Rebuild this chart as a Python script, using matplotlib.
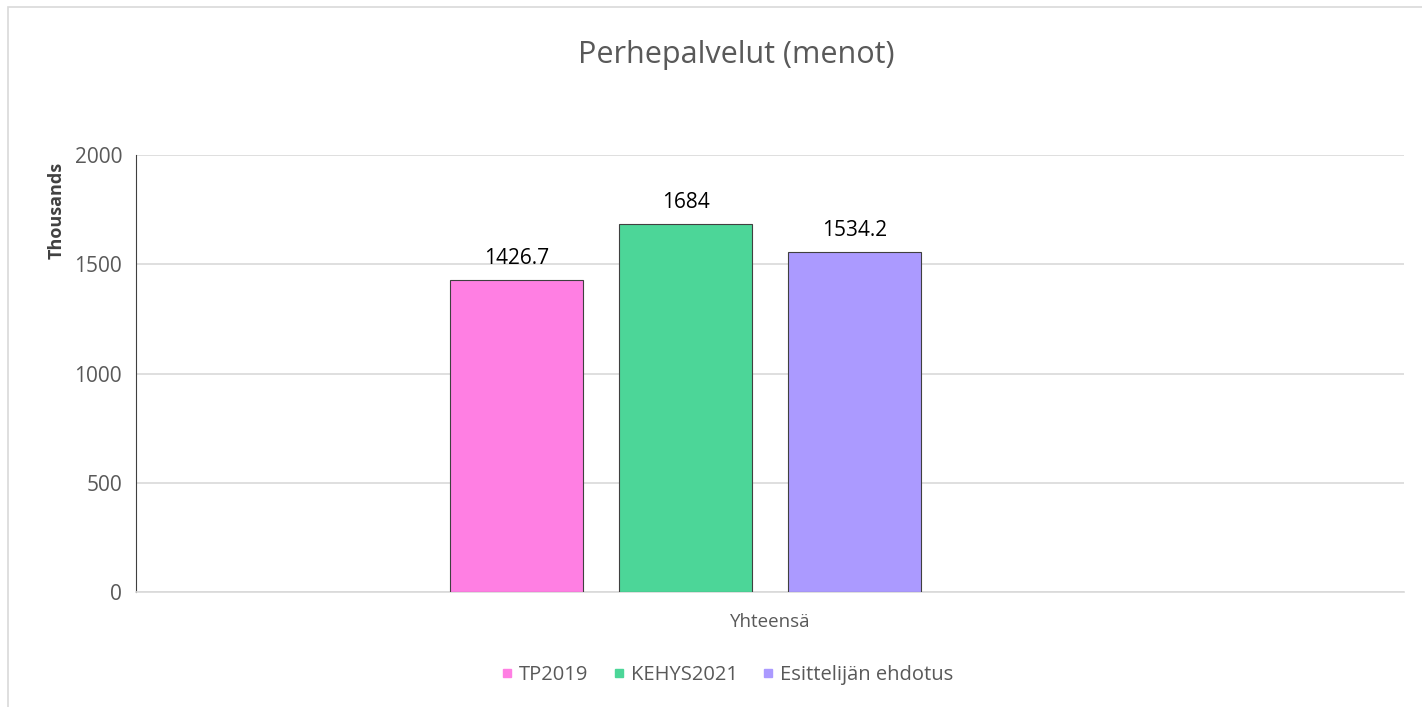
import matplotlib.pyplot as plt
from matplotlib.lines import Line2D
from matplotlib.patches import Rectangle

categories = ["Yhteensä"]
series_names = ["TP2019", "KEHYS2021", "Esittelijän ehdotus"]
# bar heights as drawn in the picture, labels as printed on it
bar_values = [1426.7, 1684.0, 1556.0]
bar_labels = ["1426.7", "1684", "1534.2"]
colors = ["#ff7fe3", "#4cd698", "#ab9aff"]
yticks = [0, 500, 1000, 1500, 2000]

plt.rcParams["font.family"] = ["Open Sans", "DejaVu Sans"]
W, H = 1422, 707
fig = plt.figure(figsize=(W / 100, H / 100), dpi=100)
ax = fig.add_axes([136 / W, 1 - 592 / H, (1404 - 136) / W, (592 - 155) / H])

# chart border (top and left visible)
fig.add_artist(Rectangle((8 / W, -0.1), 1.2, 1 - 7 / H + 0.1, transform=fig.transFigure,
                         fill=False, edgecolor="#d9d9d9", linewidth=1.2))

step = 169 / 1268
width = 133 / 1268
n_slots = 4  # the group leaves room for a fourth, empty series
for i, (v, lab, c) in enumerate(zip(bar_values, bar_labels, colors)):
    x = (i - (n_slots - 1) / 2) * step
    ax.bar(x, v, width=width, color=c, edgecolor="#404040", linewidth=0.8, zorder=3)
    ax.text(x, v + 50, lab, ha="center", va="bottom", fontsize=15, color="black")

ax.set_xlim(-0.5, 0.5)
ax.set_ylim(0, 2000)
ax.set_yticks(yticks)
ax.set_yticklabels([str(t) for t in yticks], fontsize=15, color="#595959")
ax.set_xticks([0])
ax.set_xticklabels(categories, fontsize=13.5, color="#595959")
ax.tick_params(axis="y", length=0, pad=10)
ax.tick_params(axis="x", length=0, pad=15)
ax.yaxis.grid(True, color="#d9d9d9", linewidth=1.2, zorder=0)
for s in ["top", "right"]:
    ax.spines[s].set_visible(False)
ax.spines["left"].set_color("#404040")
ax.spines["bottom"].set_color("#d9d9d9")
ax.spines["bottom"].set_linewidth(1.2)

fig.text(736 / W, 1 - 55 / H, "Perhepalvelut (menot)", ha="center", va="center",
         fontsize=22, color="#595959")
fig.text(57 / W, 1 - 210 / H, "Thousands", rotation=90, ha="center", va="center",
         fontsize=13, fontweight="bold", color="#404040")

handles = [Line2D([], [], marker="s", linestyle="", markersize=6, color=c) for c in colors]
fig.legend(handles, series_names, loc="center", bbox_to_anchor=(725 / W, 1 - 675 / H),
           ncol=3, frameon=False, fontsize=14.5, handletextpad=0.1, columnspacing=1.0,
           handlelength=1.0, labelcolor="#595959")

fig.savefig("out.png", dpi=100, facecolor="white")
